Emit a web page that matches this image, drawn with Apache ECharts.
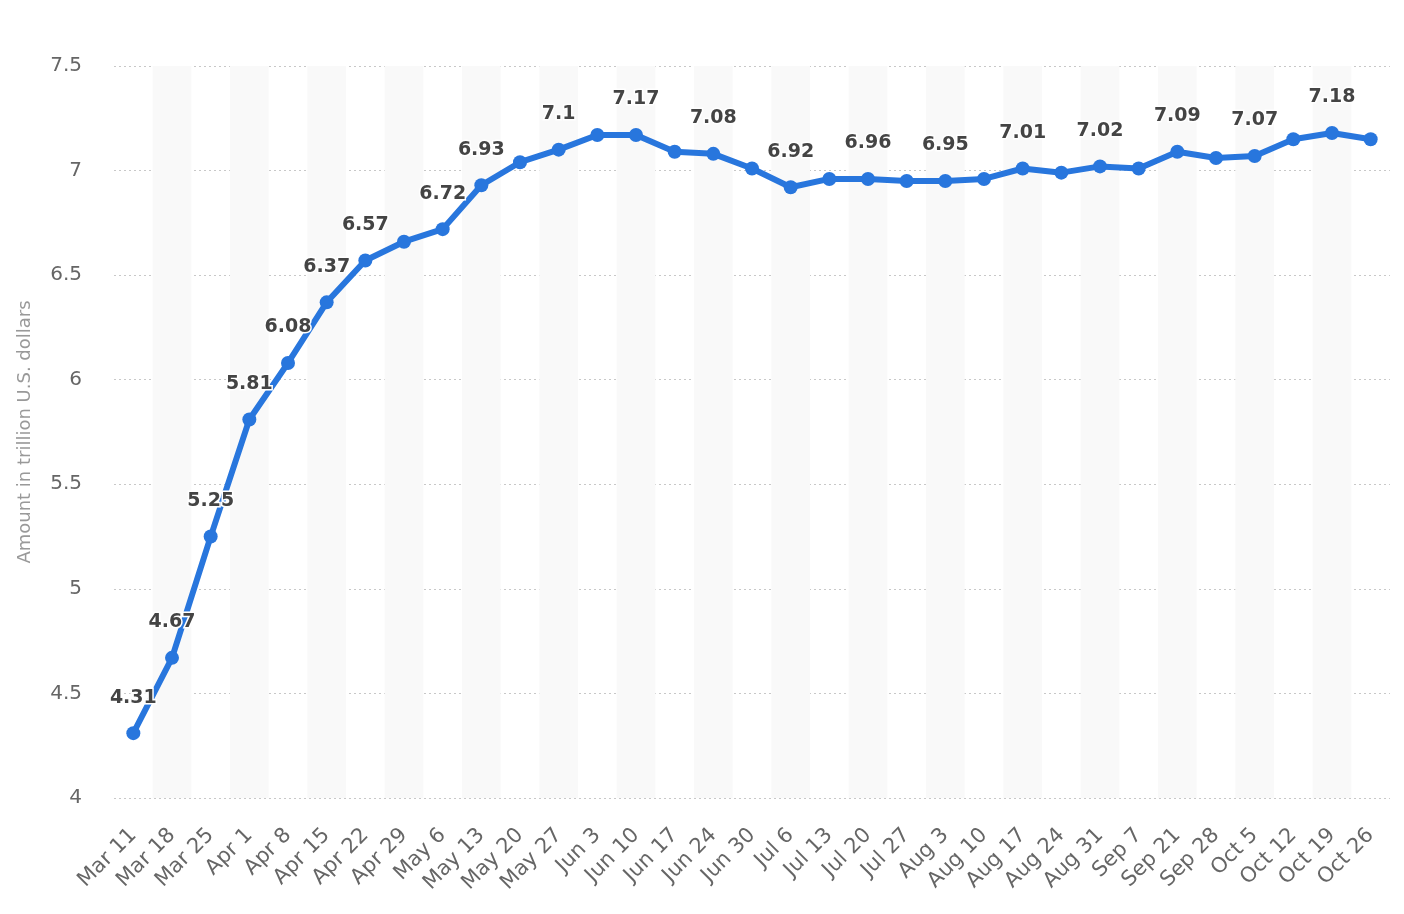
<!DOCTYPE html>
<html>
<head>
<meta charset="utf-8">
<script src="https://cdn.jsdelivr.net/npm/echarts@6/dist/echarts.min.js"></script>
<style>
  html, body { margin: 0; padding: 0; background: #fff; }
  #chart { width: 1404px; height: 914px; }
</style>
</head>
<body>
<div id="chart"></div>
<script>
// weeks on the x axis
var weeks = ['Mar 11', 'Mar 18', 'Mar 25', 'Apr 1', 'Apr 8', 'Apr 15', 'Apr 22', 'Apr 29', 'May 6', 'May 13',
    'May 20', 'May 27', 'Jun 3', 'Jun 10', 'Jun 17', 'Jun 24', 'Jun 30', 'Jul 6', 'Jul 13', 'Jul 20',
    'Jul 27', 'Aug 3', 'Aug 10', 'Aug 17', 'Aug 24', 'Aug 31', 'Sep 7', 'Sep 21', 'Sep 28', 'Oct 5',
    'Oct 12', 'Oct 19', 'Oct 26'];

// amount in trillion U.S. dollars
var amounts = [4.31, 4.67, 5.25, 5.81, 6.08, 6.37, 6.57, 6.66, 6.72, 6.93,
    7.04, 7.1, 7.17, 7.17, 7.09, 7.08, 7.01, 6.92, 6.96, 6.96,
    6.95, 6.95, 6.96, 7.01, 6.99, 7.02, 7.01, 7.09, 7.06, 7.07,
    7.15, 7.18, 7.15];

// points that carry a value label in the original
var labelled = [0, 1, 2, 3, 4, 5, 6, 8, 9, 11, 13, 15, 17, 19, 21, 23, 25, 27, 29, 31];

var chart = echarts.init(document.getElementById('chart'));

var seriesData = amounts.map(function (v, i) {
    return {
        value: v,
        label: { show: labelled.indexOf(i) !== -1 }
    };
});

var option = {
    animation: false,
    textStyle: { fontFamily: 'DejaVu Sans' },
    grid: {
        left: 114,
        right: 14,
        top: 66,
        bottom: 116
    },
    xAxis: {
        type: 'category',
        data: weeks,
        boundaryGap: true,
        axisLine: { show: false },
        axisTick: { show: false },
        axisLabel: {
            interval: 0,
            rotate: 45,
            color: '#666',
            fontSize: 21,
            margin: 34
        },
        splitArea: {
            show: true,
            interval: 0,
            areaStyle: { color: ['rgba(255,255,255,0)', '#f9f9f9'] }
        }
    },
    yAxis: {
        type: 'value',
        min: 4,
        max: 7.5,
        interval: 0.5,
        name: 'Amount in trillion U.S. dollars',
        nameLocation: 'middle',
        nameGap: 80,
        nameTextStyle: { color: '#999', fontSize: 18 },
        axisLine: { show: false },
        axisTick: { show: false },
        axisLabel: {
            color: '#666',
            fontSize: 20,
            margin: 32
        },
        splitLine: {
            lineStyle: { color: '#c8c8c8', type: [2, 3], width: 1.2 }
        }
    },
    series: [{
        type: 'line',
        data: seriesData,
        symbol: 'circle',
        symbolSize: 14,
        lineStyle: { color: '#2876dd', width: 6 },
        itemStyle: { color: '#2876dd' },
        label: {
            position: 'top',
            distance: 19,
            color: '#444',
            fontSize: 19,
            fontWeight: 'bold',
            textBorderColor: '#fff',
            textBorderWidth: 3
        }
    }]
};

chart.setOption(option);
</script>
</body>
</html>
